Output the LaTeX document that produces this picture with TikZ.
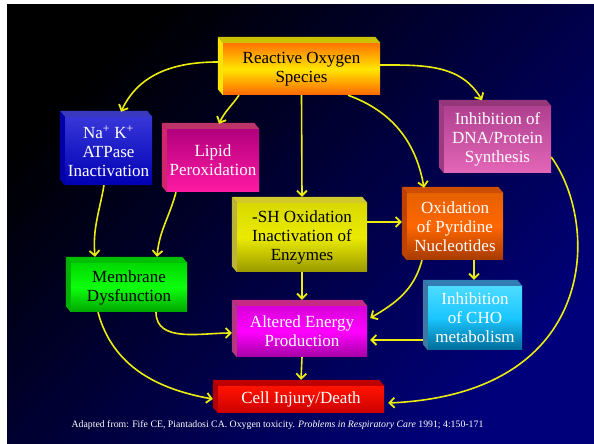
\documentclass[tikz,border=0pt]{standalone}
\usepackage{fontspec}
\setmainfont{Liberation Serif}
\usetikzlibrary{arrows.meta}

\definecolor{bgnavy}{HTML}{00007A}
\definecolor{flowyellow}{HTML}{ECEC10}
\definecolor{dnatop}{HTML}{B04090}
\definecolor{dnabot}{HTML}{E466B8}

\tikzstyle{flow}=[draw=flowyellow,line width=1.6pt,-{Straight Barb[length=5pt,width=10pt,line width=1.8pt]}]
\tikzstyle{box}=[shape=rectangle,inner sep=0pt,align=center,font=\fontsize{17}{19}\selectfont]

% top face and left face of a box
\newcommand{\bevel}[3]{%
  \fill[#2] (#1.north west) -- ++(-5,6) -- ([shift={(-5,6)}]#1.north east) -- (#1.north east) -- cycle;
  \fill[#3] (#1.north west) -- ++(-5,6) -- ([shift={(-5,6)}]#1.south west) -- (#1.south west) -- cycle;}

\begin{document}
\begin{tikzpicture}[x=1pt,y=1pt]
\useasboundingbox (0,0) rectangle (594,444);
\fill[white] (0,0) rectangle (594,444);
\shade[shading=axis,top color=black,bottom color=bgnavy,shading angle=45] (7,0) rectangle (594,439);
% boxes
\node[box,minimum width=157,minimum height=52,top color=orange!90!red,bottom color=orange!80!red,middle color=yellow!80!orange,text=black] (ros) at (301.5,375) {Reactive Oxygen\\Species};
\node[box,minimum width=87,minimum height=68,top color=blue!75!white!85!black,bottom color=blue!70!black,text=white] (na) at (108.5,293) {Na\textsuperscript{+} K\textsuperscript{+}\\ATPase\\Inactivation};
\node[box,minimum width=92,minimum height=63,top color=magenta!70!red!70!black,bottom color=magenta!60!red!90!white,text=white] (lipid) at (213,283.5) {Lipid\\Peroxidation};
\node[box,minimum width=107,minimum height=67,top color=dnatop,bottom color=dnabot,text=white] (dna) at (497.5,304.5) {Inhibition of\\DNA/Protein\\Synthesis};
\node[box,minimum width=130,minimum height=69,top color=yellow!85!black,bottom color=yellow!60!black,middle color=yellow!92!black,text=black] (sh) at (302,206.5) {-SH Oxidation\\Inactivation of\\Enzymes};
\node[box,minimum width=96,minimum height=67,top color=orange!85!red!90!black,bottom color=orange!70!red!65!black,middle color=orange!80!red,text=white] (pyr) at (455,217.5) {Oxidation\\of Pyridine\\Nucleotides};
\node[box,minimum width=116,minimum height=49,top color=green!85!black,bottom color=green!65!black,middle color=green!95!white,text=black] (mem) at (129,156.5) {Membrane\\Dysfunction};
\node[box,minimum width=94,minimum height=64,top color=cyan!80!blue!70!white,bottom color=cyan!70!blue!60!black,middle color=cyan!75!blue!90!white,text=white] (cho) at (475,126) {Inhibition\\of CHO\\metabolism};
\node[box,minimum width=130,minimum height=51,top color=magenta!85!black,bottom color=magenta!65!black,middle color=magenta,text=white] (alt) at (302,112.5) {Altered Energy\\Production};
\node[box,minimum width=166,minimum height=27,top color=red!85!orange,bottom color=red!80!black,text=white] (cell) at (301,44.5) {Cell Injury/Death};
\bevel{ros}{yellow!55!olive}{yellow!85!orange}
\bevel{na}{blue!70!white!75!black}{blue!65!black}
\bevel{lipid}{magenta!70!red!75!black}{magenta!70!red!85!black}
\bevel{dna}{dnatop!85!black}{dnatop!90!black}
\bevel{sh}{yellow!80!black}{yellow!70!black}
\bevel{pyr}{orange!75!red!80!black}{orange!70!red!75!black}
\bevel{mem}{green!75!black}{green!70!black}
\bevel{cho}{cyan!70!blue!80!black}{cyan!70!blue!70!black}
\bevel{alt}{magenta!80!black}{magenta!70!black}
\bevel{cell}{red!75!black}{red!70!black}
% connectors
\draw[flow] ([shift={(-5,7)}]ros.west) to[out=180,in=65] ([shift={(12.5,5)}]na.north);
\draw[flow] ([xshift=-62.5]ros.south) to[out=235,in=65] ([shift={(6,5)}]lipid.north);
\draw[flow] (ros.south) -- ([yshift=6]sh.north);
\draw[flow] ([xshift=46.5]ros.south) to[out=-20,in=100] ([shift={(-31,5)}]pyr.north);
\draw[flow] ([yshift=4]ros.east) to[out=0,in=120] ([shift={(-15.5,5.5)}]dna.north);
\draw[flow] ([xshift=-4.5]na.south) to[out=-100,in=95] ([shift={(-34,6)}]mem.north);
\draw[flow] ([xshift=-37]lipid.south) to[out=-105,in=85] ([shift={(28,6)}]mem.north);
\draw[flow] ([yshift=15.5]sh.east) -- ([shift={(-5,4.5)}]pyr.west);
\draw[flow] (sh.south) -- ([yshift=6]alt.north);
\draw[flow] ([xshift=19]pyr.south) -- ([shift={(-1,6)}]cho.north);
\draw[flow] ([xshift=-33]pyr.south) to[out=-105,in=30] ([shift={(3,13.5)}]alt.east);
\draw[flow] ([shift={(-5,-22)}]cho.west) -- ([shift={(3,-8.5)}]alt.east);
\draw[flow] ([xshift=27]mem.south) to[out=-90,in=180] ([shift={(-5,-1.5)}]alt.west);
\draw[flow] ([xshift=-31]mem.south) to[out=-75,in=170] ([shift={(-5,0.5)}]cell.west);
\draw[flow] (alt.south) -- ([yshift=6]cell.north);
\draw[flow] ([yshift=-17.5]dna.east) .. controls (600,220) and (600,50) .. ([shift={(4,-3.5)}]cell.east);
% source
\node[anchor=base,text=white,font=\fontsize{9.8}{11}\selectfont] (src) at (277.5,16) {Adapted from: Fife CE, Piantadosi CA. Oxygen toxicity. \textit{Problems in Respiratory Care} 1991; 4:150-171};
\end{tikzpicture}
\end{document}
